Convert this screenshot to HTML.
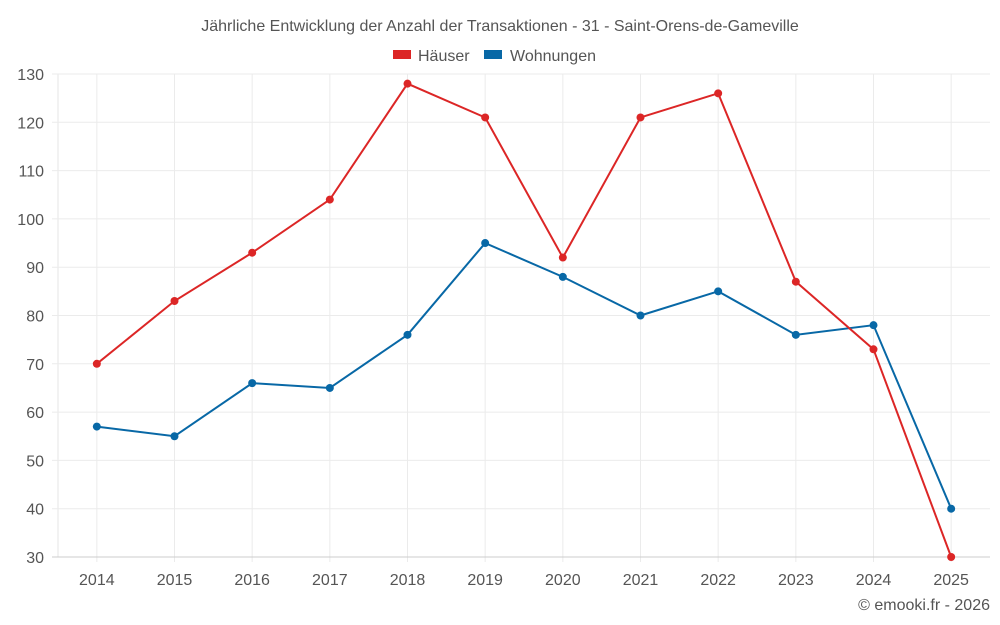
<!DOCTYPE html>
<html><head><meta charset="utf-8">
<style>
html,body{margin:0;padding:0;background:#fff;}
svg{display:block;font-family:"Liberation Sans","DejaVu Sans",sans-serif;}
</style></head>
<body>
<svg id="chart" width="1000" height="625">
<text x="500" y="31" text-anchor="middle" font-size="16" fill="#555">Jährliche Entwicklung der Anzahl der Transaktionen - 31 - Saint-Orens-de-Gameville</text>
<g>
<g><rect x="393" y="50" width="18" height="9" fill="#dc2626"/><text x="418" y="61" font-size="16" fill="#555">Häuser</text></g>
<g><rect x="484" y="50" width="18" height="9" fill="#0868a6"/><text x="510" y="61" font-size="16" fill="#555">Wohnungen</text></g>
</g>
<g id="grid"></g>
<g id="yaxis"></g>
<g id="xaxis"></g>
<g id="series"></g>
<text x="990" y="610" text-anchor="end" font-size="16" fill="#555">© emooki.fr - 2026</text>
</svg>
<script>
const categories=["2014","2015","2016","2017","2018","2019","2020","2021","2022","2023","2024","2025"];
const haeuser=[70,83,93,104,128,121,92,121,126,87,73,30];
const wohnungen=[57,55,66,65,76,95,88,80,85,76,78,40];
const yTicks=[30,40,50,60,70,80,90,100,110,120,130];
const NS="http://www.w3.org/2000/svg";
const L=58,R=990,T=74,B=557,yMin=30,yMax=130;
const bw=(R-L)/categories.length;
const x=i=>L+bw*(i+0.5);
const y=v=>B-(v-yMin)/(yMax-yMin)*(B-T);
function mk(tag,attrs,parent,txt){const e=document.createElementNS(NS,tag);for(const k in attrs)e.setAttribute(k,attrs[k]);if(txt!=null)e.textContent=txt;parent.appendChild(e);return e;}
const grid=document.getElementById('grid'),ya=document.getElementById('yaxis'),xa=document.getElementById('xaxis'),se=document.getElementById('series');
categories.forEach((c,i)=>{
 const l=mk('line',{x1:x(i),x2:x(i),y1:T,y2:B+5,stroke:'#ebebeb','stroke-width':1},grid);
 
 
});
const al=mk('line',{x1:L,x2:L,y1:T,y2:B,stroke:'#e6e6e6','stroke-width':1},grid);


yTicks.forEach(t=>{
 const l=mk('line',{x1:L-6,x2:R,y1:y(t),y2:y(t),stroke:t===yMin?'#ccc':'#ebebeb','stroke-width':1},grid);
 
 
 const tx=mk('text',{x:44,y:y(t)+6,'text-anchor':'end','font-size':16,fill:'#555'},ya,t);
 
 
});
categories.forEach((c,i)=>{
 const tx=mk('text',{x:x(i),y:585,'text-anchor':'middle','font-size':16,fill:'#555'},xa,c);
 
 
});
function draw(vals,color,name){
 const p=mk('polyline',{points:vals.map((v,i)=>x(i)+','+y(v)).join(' '),fill:'none',stroke:color,'stroke-width':2},se);
 
 
 vals.forEach((v,i)=>{
  const c=mk('circle',{cx:x(i),cy:y(v),r:4,fill:color},se);
  
  
 });
}
draw(wohnungen,'#0868a6','wohnungen');
draw(haeuser,'#dc2626','haeuser');
</script>
</body></html>
